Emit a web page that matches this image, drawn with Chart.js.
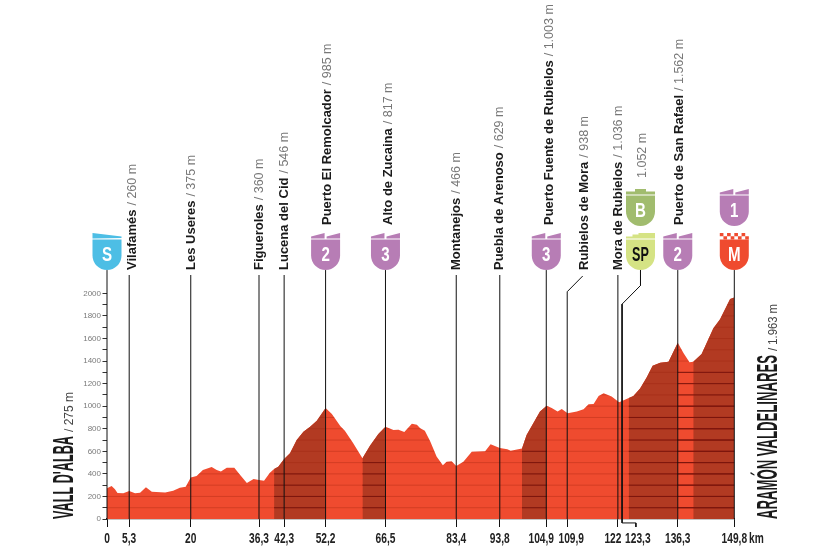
<!DOCTYPE html>
<html>
<head>
<meta charset="utf-8">
<style>
  html, body { margin: 0; padding: 0; background: #fff; }
  canvas { display: block; }
</style>
<script src="https://cdn.jsdelivr.net/npm/chart.js@4/dist/chart.umd.min.js"></script>
</head>
<body>
<canvas id="perfil" width="833" height="556"></canvas>
<script>
// elevation profile
var profileKm = [0, 1.1, 1.9, 2.5, 3.9, 5.3, 6.7, 7.9, 9.3, 10.7, 13.9, 15.8, 17.4, 18.8, 20, 21.4, 22.9, 25, 26.2, 27.2, 28.6, 30.4, 31.8, 33.4, 35, 36.3, 37.5, 38.9, 39.9, 40.9, 42.3, 43.7, 45.3, 46.9, 48.5, 50.1, 52.2, 53.7, 55.7, 56.8, 58.8, 61, 62.8, 64.8, 66.5, 68.4, 69.6, 71, 72.8, 74, 74.8, 75.9, 77.2, 78.7, 80.2, 81.1, 82.3, 83.4, 85.1, 87.1, 90.3, 91.6, 93.8, 95.6, 96.4, 99.1, 100.2, 101.8, 103.4, 105, 106.2, 107.6, 108.6, 110, 112.2, 113.8, 115, 116.2, 117.4, 118.6, 120.5, 122.3, 124.6, 125.7, 127.3, 128.9, 130.3, 132.1, 134.1, 136.3, 137.7, 139.1, 140, 142, 144.8, 146.4, 148.8, 149.8];
var profileAlt = [272, 293, 263, 230, 228, 248, 228, 233, 281, 242, 236, 251, 278, 287, 369, 381, 434, 461, 434, 420, 455, 455, 390, 319, 355, 346, 340, 411, 443, 464, 532, 582, 700, 774, 818, 872, 985, 931, 824, 783, 671, 538, 650, 754, 817, 789, 792, 771, 845, 836, 804, 783, 686, 553, 476, 508, 511, 470, 508, 597, 600, 662, 629, 618, 606, 626, 745, 848, 952, 1003, 984, 952, 975, 938, 954, 972, 1017, 1019, 1090, 1114, 1087, 1036, 1073, 1090, 1158, 1256, 1359, 1386, 1395, 1562, 1469, 1389, 1395, 1463, 1690, 1770, 1950, 1963];

// categorised climbs (darker parts of the profile)
var climbStart = [39.9, 61, 99.1, 124.6, 140];
var climbEnd = [52.2, 66.5, 105, 136.3, 149.8];

// dark rules inside the climbs
var ruleStart = [39.9, 61, 99.1, 124.6, 136.3];
var ruleEnd = [52.2, 66.5, 105, 149.8, 149.8];
var ruleTop = [400, 500, 600, 1000, 1300];

// towns and passes
var placeNames = ["Vilafamés", "Les Useres", "Figueroles", "Lucena del Cid", "Puerto El Remolcador", "Alto de Zucaina", "Montanejos", "Puebla de Arenoso", "Puerto Fuente de Rubielos", "Rubielos de Mora", "Mora de Rubielos", "Puerto de San Rafael"];
var placeKm = [5.3, 20, 36.3, 42.3, 52.2, 66.5, 83.4, 93.8, 104.9, 109.9, 122, 136.3];
var placeAlt = ["260 m", "375 m", "360 m", "546 m", "985 m", "817 m", "466 m", "629 m", "1.003 m", "938 m", "1.036 m", "1.562 m"];

var kmTicks = [0, 5.3, 20, 36.3, 42.3, 52.2, 66.5, 83.4, 93.8, 104.9, 109.9, 122, 123.3, 136.3, 149.8];
var kmLabels = ["0", "5,3", "20", "36,3", "42,3", "52,2", "66,5", "83,4", "93,8", "104,9", "109,9", "122", "123,3", "136,3", "149,8"];

var iconKm = [0, 52.2, 66.5, 104.9, 127.4, 127.4, 136.3, 149.8, 149.8];
var iconText = ["S", "2", "3", "3", "B", "SP", "2", "1", "M"];

var startName = "VALL D'ALBA";
var startAlt = "/ 275 m";
var finishName = "ARAMÓN VALDELINARES";
var finishAlt = "/ 1.963 m";
var sprintAlt = "1.052 m";

// leader lines with a bend
var rubielosLeaderKm = [109.9, 109.9, 113.6];
var rubielosLeaderAlt = [0, 2015, 2154];
var sprintLeaderKm = [127.4, 127.4, 123, 123, 126.3, 126.3];
var sprintLeaderAlt = [2207, 2070, 1905, -35, -35, -71];

// ---- layout and colours ----
var RED = "#EF4B2F";
var DARK = "#B23A22";
var RULE_DARK = "#7C150D";
var RULE_FAINT = "rgba(150,30,10,0.3)";
var PLAIN_TOP = 2163;   // marker line stops under the text
var ICON_TOP = 2207;    // marker line stops under the shield
var iconRow = [1, 1, 1, 1, 0, 1, 1, 0, 1];
var iconColor = ["#4DBEE5", "#B77DB5", "#B77DB5", "#B77DB5", "#A1BC6E", "#D5E384", "#B77DB5", "#B77DB5", RED];
var iconInk = ["#fff", "#fff", "#fff", "#fff", "#fff", "#111", "#fff", "#fff", "#fff"];
var iconTops = [189, 233];   // pixel top of each row of shields
var placeBottom = [270, 270, 270, 270, 225, 225, 270, 270, 225, 270, 270, 225];
var placeBase = [135.8, 195, 263.3, 288, 331, 392, 460, 503, 552.5, 587.7, 621.7, 683];
var tickNudge = { "104,9": -5, "109,9": 4, "122": -5, "123,3": 14.5 };

var NARROW = "'Liberation Sans Narrow', 'Liberation Sans', sans-serif";
var SANS = "'Liberation Sans', sans-serif";

function pairs(xs, ys) {
    return xs.map(function (x, i) { return { x: x, y: ys[i] }; });
}

function climbData(i) {
    var pts = pairs(profileKm, profileAlt);
    return pts.filter(function (p) { return p.x >= climbStart[i] && p.x <= climbEnd[i]; });
}

var datasets = [];
datasets.push({ data: pairs(profileKm, profileAlt), order: 30, fill: "origin", backgroundColor: RED, borderWidth: 0, pointRadius: 0, tension: 0 });
climbStart.forEach(function (s, i) {
    datasets.push({ data: climbData(i), order: 20, fill: "origin", backgroundColor: DARK, borderWidth: 0, pointRadius: 0, tension: 0 });
});

function markerLine(km, top) {
    datasets.push({ data: [{ x: km, y: 0 }, { x: km, y: top }], order: 10, borderColor: "#111", borderWidth: 1, pointRadius: 0, fill: false, clip: false });
}
markerLine(0, ICON_TOP);
placeKm.forEach(function (km, i) {
    if (km === 109.9) return;
    markerLine(km, placeBottom[i] === 225 ? ICON_TOP : PLAIN_TOP);
});
markerLine(149.8, ICON_TOP);
datasets.push({ data: pairs(rubielosLeaderKm, rubielosLeaderAlt), order: 10, borderColor: "#111", borderWidth: 1, pointRadius: 0, fill: false, clip: false });
datasets.push({ data: pairs(sprintLeaderKm, sprintLeaderAlt), order: 10, borderColor: "#111", borderWidth: 1, pointRadius: 0, fill: false, clip: false });

// squeezed text, the poster font is much narrower than anything installed
function squeezed(ctx, text, x, y, squeeze) {
    ctx.fillText(text, x, y, ctx.measureText(text).width * squeeze);
}

function shieldPath(ctx, cx, top) {
    var r = 14.5, y0 = top + 6.5, ys = top + 22.5;
    ctx.beginPath();
    ctx.moveTo(cx - r, y0);
    ctx.lineTo(cx + r, y0);
    ctx.lineTo(cx + r, ys);
    ctx.ellipse(cx, ys, r, r, 0, 0, Math.PI);
    ctx.closePath();
}

function drawCap(ctx, kind, cx, top) {
    var r = 14.5, k;
    ctx.beginPath();
    if (kind === "S") {
        ctx.moveTo(cx - r, top);
        ctx.lineTo(cx + r, top + 3.5);
        ctx.lineTo(cx + r, top + 5);
        ctx.lineTo(cx - r, top + 5.5);
    } else if (kind === "B") {
        ctx.rect(cx - r, top + 2.5, 2 * r, 3);
        ctx.rect(cx - 5.5, top, 11, 3);
    } else if (kind === "SP") {
        ctx.rect(cx - r, top + 3.5, 2 * r, 2);
        ctx.rect(cx - 8, top + 1.5, 22.5, 2.5);
        ctx.rect(cx - 2, top, 16.5, 2);
    } else if (kind === "M") {
        for (k = 0; k < 8; k++) {
            ctx.rect(cx - r + k * 3.63, top + (k % 2 ? 3.3 : 0), 3.63, 3.3);
        }
    } else {
        ctx.moveTo(cx - r, top + 5.5);
        ctx.lineTo(cx - r, top + 3.5);
        ctx.lineTo(cx - 1, top);
        ctx.lineTo(cx - 1, top + 5.5);
        ctx.moveTo(cx + 1, top + 5.5);
        ctx.lineTo(cx + 1, top + 3.5);
        ctx.lineTo(cx + r, top);
        ctx.lineTo(cx + r, top + 5.5);
    }
    ctx.fill();
}

var rulesPlugin = {
    id: "rules",
    afterDatasetDraw: function (chart, args) {
        // index 1 is the last of the filled shapes to be painted
        if (args.index !== 1) return;
        var ctx = chart.ctx, xs = chart.scales.x, ys = chart.scales.y;
        var pts = chart.getDatasetMeta(0).data;
        ctx.save();
        ctx.beginPath();
        ctx.moveTo(pts[0].x, ys.getPixelForValue(0));
        pts.forEach(function (p) { ctx.lineTo(p.x, p.y); });
        ctx.lineTo(pts[pts.length - 1].x, ys.getPixelForValue(0));
        ctx.closePath();
        ctx.clip();
        ctx.lineWidth = 1;
        ctx.strokeStyle = RULE_FAINT;
        var alt, y, i;
        for (alt = 100; alt <= 2000; alt += 100) {
            y = ys.getPixelForValue(alt);
            ctx.beginPath();
            ctx.moveTo(xs.left, y);
            ctx.lineTo(xs.right, y);
            ctx.stroke();
        }
        ctx.strokeStyle = RULE_DARK;
        for (i = 0; i < ruleStart.length; i++) {
            for (alt = 100; alt <= ruleTop[i]; alt += 100) {
                y = ys.getPixelForValue(alt);
                ctx.beginPath();
                ctx.moveTo(xs.getPixelForValue(ruleStart[i]), y);
                ctx.lineTo(xs.getPixelForValue(ruleEnd[i]), y);
                ctx.stroke();
            }
        }
        ctx.restore();
    }
};

var labelsPlugin = {
    id: "labels",
    afterDraw: function (chart) {
        var ctx = chart.ctx, xs = chart.scales.x;

        // km labels under the axis
        ctx.save();
        ctx.fillStyle = "#222";
        ctx.font = "bold 15px " + NARROW;
        ctx.textAlign = "center";
        ctx.textBaseline = "alphabetic";
        kmTicks.forEach(function (km, i) {
            var label = kmLabels[i];
            var x = xs.getPixelForValue(km) + (tickNudge[label] || 0);
            squeezed(ctx, label, x, 542.7, 0.68);
        });
        ctx.textAlign = "left";
        squeezed(ctx, "km", 749, 542.7, 0.68);
        ctx.restore();

        // vertical names
        placeNames.forEach(function (name, i) {
            ctx.save();
            ctx.translate(placeBase[i], placeBottom[i]);
            ctx.rotate(-Math.PI / 2);
            ctx.textAlign = "left";
            ctx.textBaseline = "alphabetic";
            ctx.font = "bold 13px " + SANS;
            ctx.fillStyle = "#1a1a1a";
            ctx.fillText(name, 0, 0);
            var w = ctx.measureText(name).width;
            ctx.font = "12.5px " + SANS;
            ctx.fillStyle = "#777";
            ctx.fillText("/ " + placeAlt[i], w + 4, 0);
            ctx.restore();
        });

        ctx.save();
        ctx.translate(645.7, 178);
        ctx.rotate(-Math.PI / 2);
        ctx.font = "12.5px " + SANS;
        ctx.fillStyle = "#777";
        ctx.fillText(sprintAlt, 0, 0);
        ctx.restore();

        // start and finish
        ctx.save();
        ctx.translate(73.3, 519);
        ctx.rotate(-Math.PI / 2);
        ctx.font = "bold 29px " + NARROW;
        ctx.fillStyle = "#1a1a1a";
        ctx.fillText(startName, 0, 0, 83);
        ctx.font = "13px " + NARROW;
        ctx.fillStyle = "#444";
        ctx.fillText(startAlt, 87, 0, 40);
        ctx.restore();

        ctx.save();
        ctx.translate(777.3, 519);
        ctx.rotate(-Math.PI / 2);
        ctx.font = "bold 29px " + NARROW;
        ctx.fillStyle = "#1a1a1a";
        ctx.fillText(finishName, 0, 0, 164);
        ctx.font = "13px " + NARROW;
        ctx.fillStyle = "#444";
        ctx.fillText(finishAlt, 168, 0, 47);
        ctx.restore();

        // shields
        iconKm.forEach(function (km, i) {
            var cx = xs.getPixelForValue(km);
            var top = iconTops[iconRow[i]];
            var txt = iconText[i];
            ctx.save();
            ctx.fillStyle = iconColor[i];
            drawCap(ctx, txt === "S" || txt === "B" || txt === "SP" || txt === "M" ? txt : "climb", cx, top);
            shieldPath(ctx, cx, top);
            ctx.fill();
            ctx.fillStyle = iconInk[i];
            ctx.font = "bold 21px " + NARROW;
            ctx.textAlign = "center";
            squeezed(ctx, txt, cx, top + 28, txt === "SP" ? 0.6 : 0.72);
            ctx.restore();
        });
    }
};

new Chart(document.getElementById("perfil").getContext("2d"), {
    type: "line",
    data: { datasets: datasets },
    plugins: [rulesPlugin, labelsPlugin],
    options: {
        responsive: false,
        animation: false,
        parsing: false,
        normalized: true,
        layout: { padding: { top: 0, right: 98.7, bottom: 0, left: 0 } },
        plugins: { legend: { display: false }, title: { display: false }, tooltip: { enabled: false } },
        scales: {
            x: {
                type: "linear",
                min: 0,
                max: 149.8,
                afterFit: function (scale) {
                    scale.height = 37;
                    scale.paddingLeft = 0;
                    scale.paddingRight = 0;
                },
                afterBuildTicks: function (scale) {
                    scale.ticks = kmTicks.map(function (km) { return { value: km }; });
                },
                grid: {
                    drawOnChartArea: false,
                    tickLength: 8,
                    tickColor: function (c) { return c.tick && c.tick.value === 123.3 ? "rgba(0,0,0,0)" : "#111"; }
                },
                border: { color: "#111", width: 1.2 },
                ticks: { display: false }
            },
            y: {
                type: "linear",
                min: 0,
                max: 4601,
                afterFit: function (scale) {
                    scale.width = 107;
                    scale.paddingTop = 0;
                    scale.paddingBottom = 0;
                },
                afterBuildTicks: function (scale) {
                    var list = [];
                    for (var v = 0; v <= 2000; v += 100) list.push({ value: v });
                    scale.ticks = list;
                },
                grid: { drawOnChartArea: false, tickLength: 4.5, tickColor: "#333" },
                border: { display: false },
                ticks: {
                    autoSkip: false,
                    padding: 1.5,
                    color: "#7a7a7a",
                    font: { family: "'Liberation Sans', sans-serif", size: 8 },
                    callback: function (v) { return v % 200 === 0 ? String(v) : ""; }
                }
            }
        }
    }
});
</script>
</body>
</html>
